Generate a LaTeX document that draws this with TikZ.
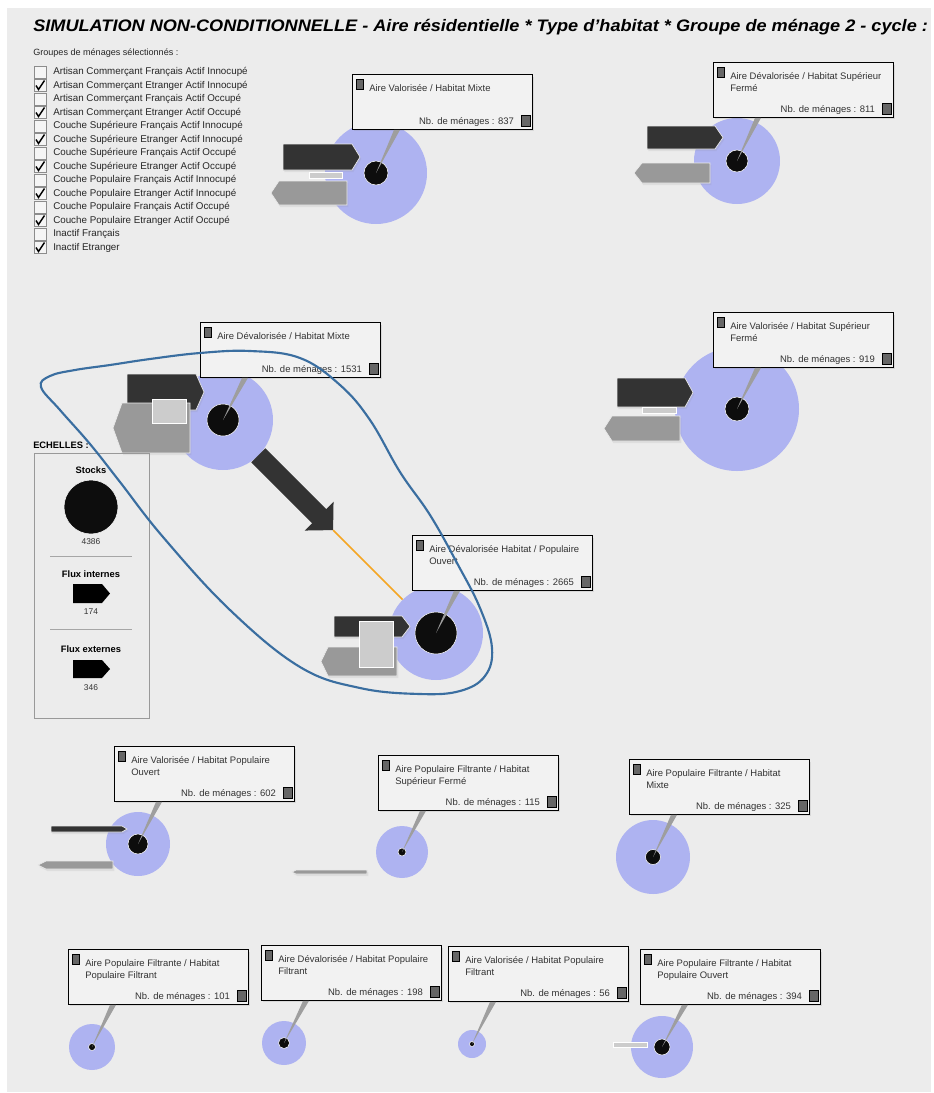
\documentclass[tikz,border=0pt]{standalone}
\usepackage{fontspec}
\setmainfont{Liberation Sans}
\usetikzlibrary{calc,positioning,shadows,arrows.meta}
\definecolor{panel}{RGB}{236,236,236}
\definecolor{diskblue}{RGB}{174,179,241}
\definecolor{darkflux}{RGB}{51,51,51}
\definecolor{grayflux}{RGB}{153,153,153}
\definecolor{lightflux}{RGB}{204,204,204}
\definecolor{boxfill}{RGB}{242,242,242}
\definecolor{ringblue}{RGB}{58,110,160}
\definecolor{flowline}{RGB}{245,166,35}
\tikzset{
  infobox/.style={draw=black, line width=0.9pt, fill=boxfill, minimum width=135pt, minimum height=41pt,
    inner sep=0pt, anchor=north west, drop shadow={opacity=0.18, shadow xshift=1.2pt, shadow yshift=-1.5pt}},
  boxtext/.style={font=\fontsize{7.1}{9}\selectfont, text=black!80, inner sep=0pt, align=left},
  listtext/.style={font=\fontsize{7.35}{8}\selectfont, text=black!85, inner sep=0pt},
  legtitle/.style={font=\fontsize{7}{8}\selectfont\bfseries, inner sep=0pt},
  legvalue/.style={font=\fontsize{6.3}{7}\selectfont, text=black!80, inner sep=0pt},
  sq/.style={draw=black, fill=black!60, line width=0.5pt, inner sep=0pt},
  cbox/.style={draw=black!45, fill=white!96!black, line width=0.4pt, minimum size=9pt, inner sep=0pt},
  tick/.style={line width=1.1pt, line join=miter},
  disk/.style={circle, fill=diskblue, inner sep=0pt},
  stock/.style={circle, fill=black!95, draw=white, line width=0.4pt, inner sep=0pt},
  ptr/.style={fill=black!38},
  fdark/.style={fill=darkflux, draw=black!8, line width=0.5pt, drop shadow={opacity=0.12, shadow xshift=1pt, shadow yshift=-1.5pt}},
  fgray/.style={fill=grayflux, draw=black!8, line width=0.5pt, drop shadow={opacity=0.12, shadow xshift=1pt, shadow yshift=-1.5pt}},
  flight/.style={fill=lightflux, draw=white, line width=0.5pt},
  sepline/.style={draw=black!35, line width=0.5pt}
}
\begin{document}
\begin{tikzpicture}[x=0.75pt,y=-0.75pt]
  \useasboundingbox (0,0) rectangle (933,1093);
  \fill[white] (0,0) rectangle (933,1093);
  \fill[panel] (7,8) rectangle (931,1092);
  %% title
  \node[anchor=base west, inner sep=0pt] (title) at (33,31)
    {\resizebox{671pt}{\height}{\fontsize{12.5}{14}\selectfont\bfseries\itshape SIMULATION NON-CONDITIONNELLE - Aire résidentielle * Type d'habitat * Groupe de ménage 2 - cycle :}};
  %% household groups
  \node[listtext, anchor=base west, font=\fontsize{6.8}{8}\selectfont] (groups) at (33,55) {Groupes de ménages sélectionnés :};
  \begin{scope}
    \clip (30,62) rectangle (247,256);
    \foreach \i/\k/\t in {0/0/{Artisan Commerçant Français Actif Innocupé},
        1/1/{Artisan Commerçant Etranger Actif Innocupé},
        2/0/{Artisan Commerçant Français Actif Occupé},
        3/1/{Artisan Commerçant Etranger Actif Occupé},
        4/0/{Couche Supérieure Français Actif Innocupé},
        5/1/{Couche Supérieure Etranger Actif Innocupé},
        6/0/{Couche Supérieure Français Actif Occupé},
        7/1/{Couche Supérieure Etranger Actif Occupé},
        8/0/{Couche Populaire Français Actif Innocupé},
        9/1/{Couche Populaire Etranger Actif Innocupé},
        10/0/{Couche Populaire Français Actif Occupé},
        11/1/{Couche Populaire Etranger Actif Occupé},
        12/0/{Inactif Français},
        13/1/{Inactif Etranger}}{
      \node[cbox] (cb\i) at (40,72+13.5*\i) {};
      \node[listtext, anchor=west] (cl\i) at (53,72+13.5*\i) {\t};
      \ifnum\k=1
        \draw[tick] ($(cb\i.center)+(-4,0)$) -- ($(cb\i.center)+(-1.5,4)$) -- ($(cb\i.center)+(4.5,-5)$);
      \fi
    }
  \end{scope}
  %% stocks
  \foreach \n/\x/\y/\R/\r in {1/376/173/51/12, 2/737/161/43/11, 3/223/420/50/16, 4/737/409/62/12,
      5/436/633/47/21, 6/138/844/32/10, 7/402/852/26/4, 8/653/857/37/7.5,
      9/92/1047/23/3.5, 10/284/1043/22/5.5, 11/472/1044/14/2.5, 12/662/1047/31/8}{
    \node[disk, minimum size=\R*1.5pt] (d\n) at (\x,\y) {};
    \node[stock, minimum size=\r*1.5pt] (s\n) at (\x,\y) {};
  }
  %% flux
  \draw[fdark] (283,144) -- (352,144) -- (360,157) -- (352,170) -- (283,170) -- cycle;
  \draw[fgray] (271,193) -- (279,181) -- (347,181) -- (347,205) -- (279,205) -- cycle;
  \draw[flight] (309,172) rectangle (342,178);
  \draw[fdark] (647,126) -- (715,126) -- (723,137.5) -- (715,149) -- (647,149) -- cycle;
  \draw[fgray] (634,173) -- (642,163) -- (710,163) -- (710,183) -- (642,183) -- cycle;
  \draw[fdark] (127,374) -- (196,374) -- (204,392) -- (196,410) -- (127,410) -- cycle;
  \draw[fgray] (113,428) -- (122,403) -- (190,403) -- (190,453) -- (122,453) -- cycle;
  \draw[flight] (152,399) rectangle (186,423);
  \draw[fdark] (617,378) -- (685,378) -- (693,392.5) -- (685,407) -- (617,407) -- cycle;
  \draw[flight] (642,407) rectangle (676,413);
  \draw[fgray] (604,428.5) -- (612,416) -- (680,416) -- (680,441) -- (612,441) -- cycle;
  \draw[fdark] (334,616) -- (402,616) -- (410,626.5) -- (402,637) -- (334,637) -- cycle;
  \draw[fgray] (321,661.5) -- (328,647) -- (397,647) -- (397,676) -- (328,676) -- cycle;
  \draw[flight] (359,621) rectangle (393,667);
  \draw[fdark] (51,826) -- (122,826) -- (127,829) -- (122,832) -- (51,832) -- cycle;
  \draw[fgray] (38,865) -- (46,861) -- (113,861) -- (113,869) -- (46,869) -- cycle;
  \draw[fgray] (292,872) -- (296,870) -- (367,870) -- (367,874) -- (296,874) -- cycle;
  \draw[flight] (613,1042) rectangle (647,1047);
  %% boxes
  \foreach \n/\x/\y/\t/\c in {
      1/352/74/{Aire Valorisée / Habitat Mixte}/837,
      2/713/62/{Aire Dévalorisée / Habitat Supérieur\\Fermé}/811,
      3/200/322/{Aire Dévalorisée / Habitat Mixte}/1531,
      4/713/312/{Aire Valorisée / Habitat Supérieur\\Fermé}/919,
      5/412/535/{Aire Dévalorisée Habitat / Populaire\\Ouvert}/2665,
      6/114/746/{Aire Valorisée / Habitat Populaire\\Ouvert}/602,
      7/378/755/{Aire Populaire Filtrante / Habitat\\Supérieur Fermé}/115,
      8/629/759/{Aire Populaire Filtrante / Habitat\\Mixte}/325,
      9/68/949/{Aire Populaire Filtrante / Habitat\\Populaire Filtrant}/101,
      10/261/945/{Aire Dévalorisée / Habitat Populaire\\Filtrant}/198,
      11/448/946/{Aire Valorisée / Habitat Populaire\\Filtrant}/56,
      12/640/949/{Aire Populaire Filtrante / Habitat\\Populaire Ouvert}/394}{
    \node[infobox] (b\n) at (\x,\y) {};
    \node[sq, minimum width=5pt, minimum height=7.5pt, anchor=north west] (q\n) at ($(b\n.north west)+(4,5)$) {};
    \node[boxtext, anchor=north west] (t\n) at ($(b\n.north west)+(17,10)$) {\t};
    \node[sq, minimum width=6.5pt, minimum height=8.5pt, anchor=south east] (r\n) at ($(b\n.south east)+(-3,-3)$) {};
    \node[boxtext, anchor=base east] (c\n) at ($(b\n.south east)+(-19,-5)$) {Nb. de ménages : \c};
    \fill[ptr] ($(b\n.south west)+(42,0)$) -- ($(b\n.south west)+(48,0)$) -- (s\n.center) -- cycle;
  }
  %% legend
  \node[legtitle, anchor=base west] (scales) at (33,448) {ECHELLES :};
  \node[draw=black!40, line width=0.6pt, minimum width=86.25pt, minimum height=198.75pt, anchor=north west, inner sep=0pt] (legend) at (34,453) {};
  \node[legtitle] (lstock) at (91,470) {Stocks};
  \node[stock, minimum size=40.5pt] (ldisk) at (91,507) {};
  \node[legvalue] (vstock) at (91,542) {4386};
  \draw[sepline] (50,556) -- (132,556);
  \node[legtitle] (lint) at (91,574) {Flux internes};
  \fill (73,584) -- (102,584) -- (110,593.5) -- (102,603) -- (73,603) -- cycle;
  \node[legvalue] (vint) at (91,612) {174};
  \draw[sepline] (50,629) -- (132,629);
  \node[legtitle] (lext) at (91,649) {Flux externes};
  \fill (73,660) -- (102,660) -- (110,669) -- (102,678) -- (73,678) -- cycle;
  \node[legvalue] (vext) at (91,688) {346};
  %% flow between stocks 3 and 5
  \draw[darkflux, line width=15pt, -{Triangle[width=29.7pt,length=14.85pt]}]
    ($(d3.center)!0.166!(d5.center)$) -- ($(d3.center)!0.517!(d5.center)$);
  \draw[flowline, line width=1.2pt] ($(d3.center)!0.517!(d5.center)$) -- (d5);
  %% selection ring
  \draw[ringblue, line width=1.6pt] plot[smooth cycle, tension=0.65] coordinates {
    (41,387) (50,376) (75,370) (110,365) (150,359) (200,353) (250,351) (300,358) (340,385) (370,420)
    (400,472) (430,515) (457,563) (480,608) (492,648) (485,676) (460,691) (420,694) (360,688)
    (300,667) (230,610) (163,537) (120,482) (90,444) (60,410)};
\end{tikzpicture}
\end{document}
